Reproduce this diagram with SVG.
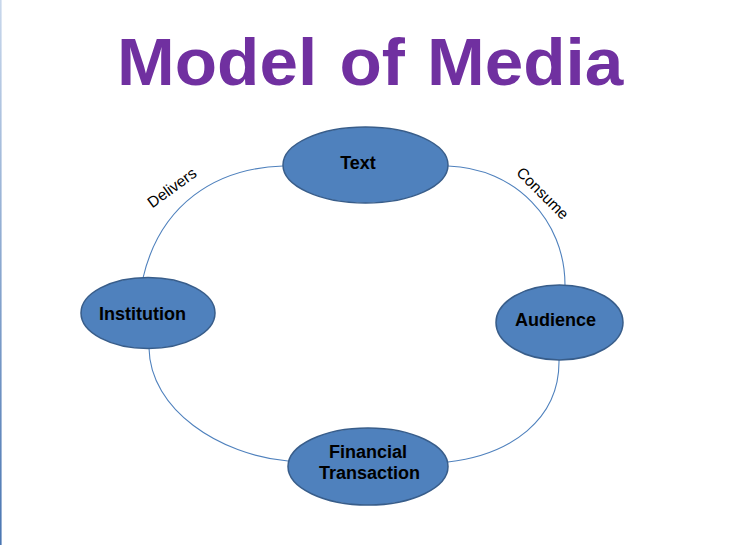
<svg xmlns="http://www.w3.org/2000/svg" width="752" height="545" viewBox="0 0 752 545">
  <defs>
    <linearGradient id="edge" x1="0" y1="0" x2="0" y2="1">
      <stop offset="0" stop-color="#C9D8EC"/>
      <stop offset="1" stop-color="#4A76B2"/>
    </linearGradient>
  </defs>
  <style>
    .node { fill: #4F81BD; stroke: #385D8A; stroke-width: 1.5; }
    .lbl { font-family: "Liberation Sans", Arial, sans-serif; font-weight: bold; font-size: 18px; fill: #000; text-anchor: middle; }
    .edge { fill: none; stroke: #4F81BD; stroke-width: 1.1; }
    .elbl { font-family: "Liberation Sans", Arial, sans-serif; font-size: 15.5px; fill: #000; text-anchor: middle; }
    .title { font-family: "Liberation Sans", Arial, sans-serif; font-weight: bold; font-size: 67px; fill: #7030A0; }
  </style>
  <rect width="752" height="545" fill="#FFFFFF"/>
  <rect x="0" y="0" width="1.6" height="545" fill="url(#edge)"/>

  <g id="title" transform="translate(0,85) scale(1.035,1)">
    <text class="title" x="113">Model</text>
    <text class="title" x="328">of</text>
    <text class="title" x="412.5">Media</text>
  </g>

  <g id="connectors">
    <path class="edge" d="M283,166 C215,168 160,205 143,278"/>
    <path class="edge" d="M448,166 C515,168 565,220 565,285"/>
    <path class="edge" d="M149,348 C150,410 220,455 288,461"/>
    <path class="edge" d="M559,360 C560,420 510,455 448,462"/>
    <text class="elbl" transform="translate(175,192) rotate(-36)">Delivers</text>
    <text class="elbl" transform="translate(539,197) rotate(45)">Consume</text>
  </g>

  <g id="node-text">
    <ellipse class="node" cx="365.5" cy="165" rx="82.5" ry="38"/>
    <text class="lbl" x="358" y="169">Text</text>
  </g>
  <g id="node-institution">
    <ellipse class="node" cx="148" cy="313" rx="67" ry="35.5"/>
    <text class="lbl" x="142.5" y="320">Institution</text>
  </g>
  <g id="node-audience">
    <ellipse class="node" cx="559.5" cy="322.5" rx="63.5" ry="37.5"/>
    <text class="lbl" x="555.5" y="326">Audience</text>
  </g>
  <g id="node-financial">
    <ellipse class="node" cx="368" cy="466.5" rx="80" ry="38.5"/>
    <text class="lbl" x="368" y="458">Financial</text>
    <text class="lbl" x="369.5" y="479">Transaction</text>
  </g>
</svg>
